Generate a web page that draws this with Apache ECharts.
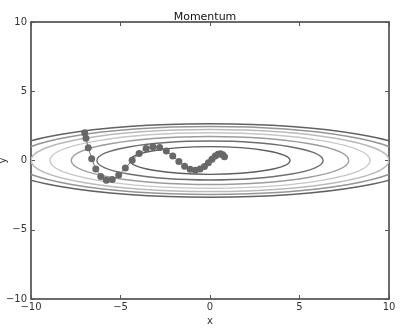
<!DOCTYPE html>
<html><head><meta charset="utf-8">
<script src="https://cdn.jsdelivr.net/npm/echarts@6/dist/echarts.min.js"></script>
<style>html,body{margin:0;padding:0;background:#fff}#c{width:410px;height:332px}</style>
</head><body><div id="c"></div>
<script>
// Momentum path (x, y)
var xPath = [-7.00,-6.93,-6.80,-6.61,-6.38,-6.10,-5.79,-5.46,-5.10,-4.73,-4.35,-3.96,-3.57,-3.19,-2.81,-2.44,-2.08,-1.74,-1.42,-1.11,-0.82,-0.56,-0.31,-0.09,0.11,0.29,0.45,0.59,0.71,0.81];
var yPath = [2.00,1.60,0.92,0.12,-0.62,-1.16,-1.42,-1.37,-1.05,-0.55,0.01,0.51,0.86,1.00,0.93,0.68,0.32,-0.07,-0.41,-0.63,-0.70,-0.62,-0.43,-0.17,0.09,0.32,0.45,0.49,0.42,0.27];
// Contour ellipses (centred at 0,0): half-widths and half-heights
var contourRx = [4.47, 6.32, 7.75, 8.94, 10.0, 10.95, 11.83];
var contourRy = [1.00, 1.41, 1.73, 2.00, 2.24, 2.45, 2.65];
var contourGray = ['#5e5e5e','#6e6e6e','#9c9c9c','#c6c6c6','#bababa','#959595','#616161'];
var xTicks = [-10, -5, 0, 5, 10];
var yTicks = [-10, -5, 0, 5, 10];

var pathData = xPath.map(function(x, i){ return [x, yPath[i]]; });
var contourData = contourRx.map(function(rx, i){ return [rx, contourRy[i], i]; });

var fmt = function(v){ return String(v).replace('-', '\u2212'); };
var font = 'DejaVu Sans';
var chart = echarts.init(document.getElementById('c'), null, {renderer:'canvas'});
var axisLine = {show:true, onZero:false, lineStyle:{color:'#3a3a3a', width:1.5}};
var tick = {show:true, inside:true, length:4, lineStyle:{color:'#555', width:1}};
chart.setOption({
  animation:false,
  backgroundColor:'#fff',
  title:{text:'Momentum', left:'center', top:7, textStyle:{fontFamily:font, fontSize:11, fontWeight:'normal', color:'#111'}},
  grid:{left:31, right:21, top:22, bottom:33, containLabel:false, outerBoundsMode:'none'},
  xAxis:[
    {type:'value', min:-10, max:10, interval:5, position:'bottom',
     name:'x', nameLocation:'middle', nameGap:17, nameMoveOverlap:false, nameTextStyle:{fontFamily:font, fontSize:10, color:'#333'},
     axisLine:axisLine, axisTick:tick, splitLine:{show:false},
     axisLabel:{formatter:fmt, margin:3, fontFamily:font, fontSize:10, color:'#333'}},
    {type:'value', min:-10, max:10, interval:5, position:'top',
     axisLine:axisLine, axisTick:tick, splitLine:{show:false}, axisLabel:{show:false}}
  ],
  yAxis:[
    {type:'value', min:-10, max:10, interval:5, position:'left',
     name:'y', nameLocation:'middle', nameGap:23, nameMoveOverlap:false, nameTextStyle:{fontFamily:font, fontSize:10, color:'#333'},
     axisLine:axisLine, axisTick:tick, splitLine:{show:false},
     axisLabel:{formatter:fmt, margin:4, fontFamily:font, fontSize:10, color:'#333'}},
    {type:'value', min:-10, max:10, interval:5, position:'right',
     axisLine:axisLine, axisTick:tick, splitLine:{show:false}, axisLabel:{show:false}}
  ],
  series:[
    {type:'custom', clip:true, data:contourData, silent:true,
     renderItem:function(params, api){
       var c = api.coord([0,0]);
       var rx = api.size([api.value(0), 0])[0];
       var ry = api.size([0, api.value(1)])[1];
       var i = api.value(2);
       return {type:'ellipse', shape:{cx:c[0], cy:c[1], rx:rx, ry:ry},
               style:{fill:null, stroke:contourGray[i], lineWidth:1.4}};
     }, z:2},
    {type:'line', data:pathData, symbol:'circle', symbolSize:7,
     lineStyle:{color:'#707070', width:1}, itemStyle:{color:'#686868', borderWidth:0}, z:5}
  ]
});
</script></body></html>
